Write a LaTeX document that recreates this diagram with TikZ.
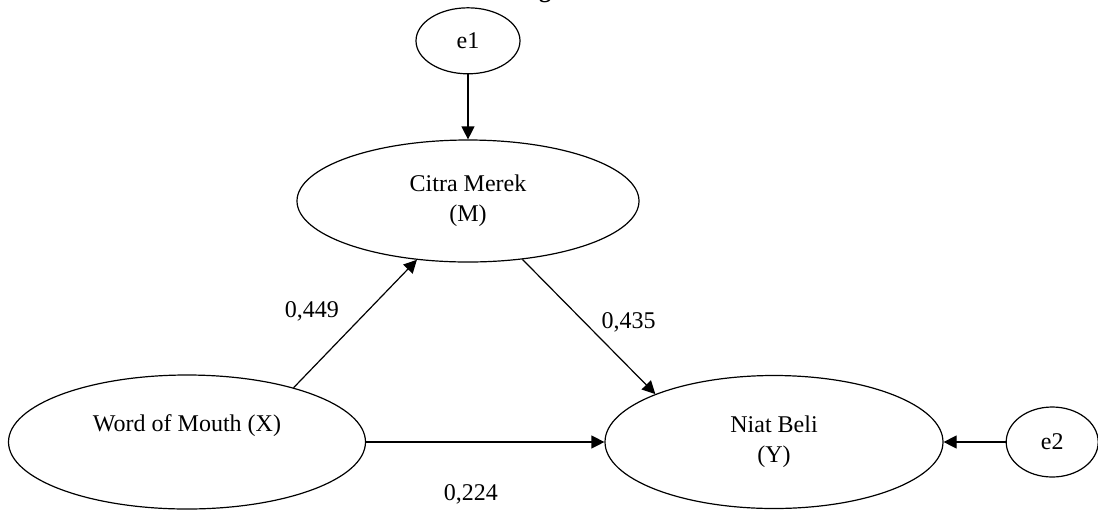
\documentclass[tikz,border=0pt]{standalone}
\usepackage{fontspec}
\setmainfont{Liberation Serif}
\usetikzlibrary{arrows.meta,positioning,shapes.geometric}

\begin{document}
\begin{tikzpicture}[x=0.5pt,y=-0.5pt,font=\fontsize{12}{15}\selectfont,
var/.style={ellipse,draw,line width=0.6pt,inner sep=0pt,align=center},
err/.style={ellipse,draw,line width=0.6pt,inner sep=0pt,minimum width=48pt,minimum height=34pt},
arr/.style={line width=0.6pt,-{Triangle[length=6.5pt,width=6.5pt]}},
coef/.style={inner sep=2pt}]
\useasboundingbox (0,0) rectangle (1098,510);
\node[font=\bfseries\fontsize{12}{15}\selectfont,anchor=base] (title) at (545,-3) {g};
\node[var,minimum width=171pt,minimum height=61pt] (citra) at (468,201) {Citra Merek\\(M)};
\node[var,minimum width=178.5pt,minimum height=67pt] (wom) at (187,442) {Word of Mouth (X)\\[4pt]~};
\node[var,minimum width=169pt,minimum height=66.5pt] (niat) at (774,442) {Niat Beli\\(Y)};
\node[err,minimum width=52pt,minimum height=33pt,above=32.5pt of citra] (e1) {e1};
\node[err,minimum width=46pt,minimum height=35pt,right=31pt of niat] (e2) {e2};
\draw[arr] (e1)--(citra);
\draw[arr] (e2)--(niat);
\draw[arr] (wom.27)--node[coef,left=12pt,pos=0.6]{0,449} (citra.229.5);
\draw[arr] (citra.313.6)--node[coef,right=6pt,pos=0.47]{0,435} (niat.158.8);
\draw[arr] (wom)--node[coef,below=19pt,pos=0.44]{0,224} (niat);
\end{tikzpicture}
\end{document}
